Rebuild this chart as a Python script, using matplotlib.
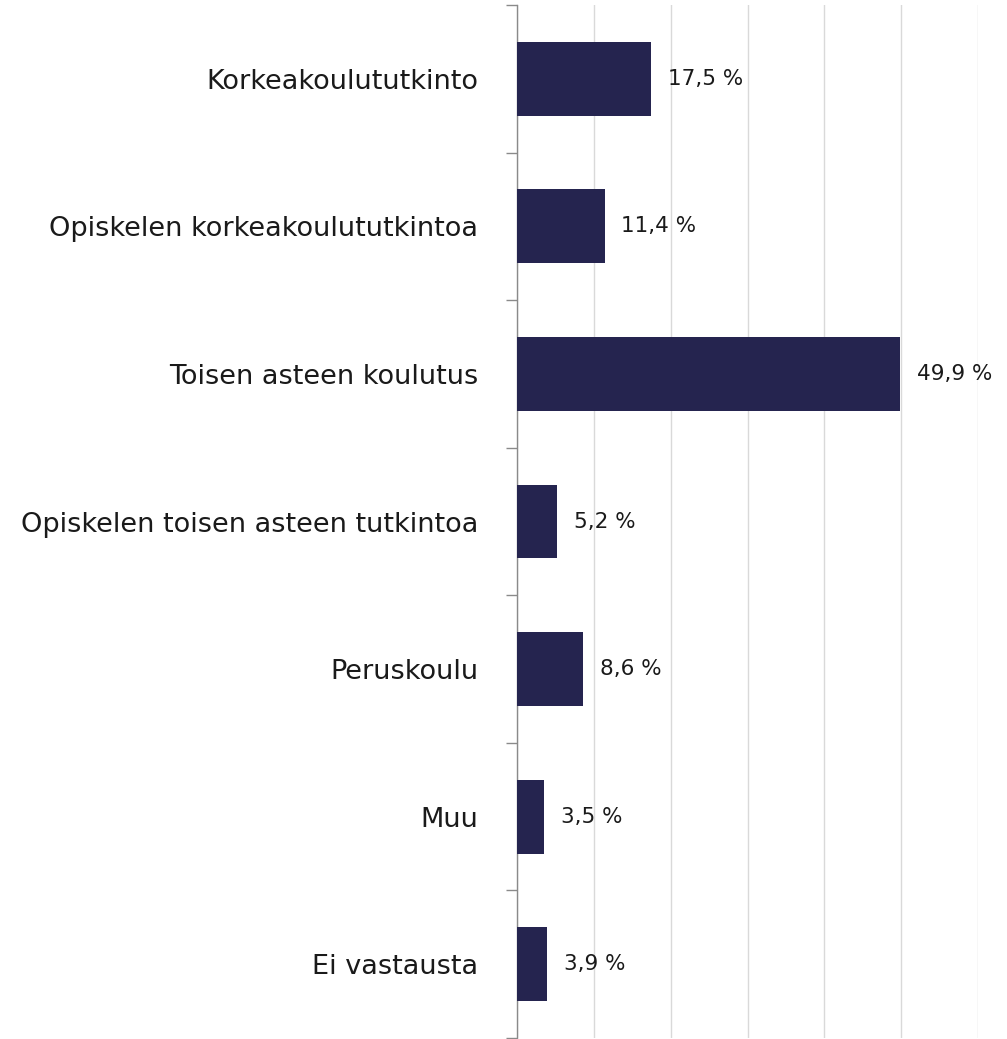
import matplotlib
matplotlib.use("Agg")
import matplotlib.pyplot as plt
from matplotlib.ticker import FixedLocator, MultipleLocator

categories = [
    "Korkeakoulututkinto",
    "Opiskelen korkeakoulututkintoa",
    "Toisen asteen koulutus",
    "Opiskelen toisen asteen tutkintoa",
    "Peruskoulu",
    "Muu",
    "Ei vastausta",
]
values = [17.5, 11.4, 49.9, 5.2, 8.6, 3.5, 3.9]

BAR_COLOR = "#25244f"
TEXT_COLOR = "#1a1a1a"

plt.rcParams["font.family"] = ["DejaVu Sans"]

fig = plt.figure(figsize=(10.07, 10.39), dpi=100)
fig.patch.set_facecolor("white")
ax = fig.add_axes([517 / 1007, 1 - 1038 / 1039, 461 / 1007, 1033 / 1039])

y = list(range(len(categories)))
ax.barh(y, values, height=0.5, color=BAR_COLOR, zorder=3)

for yi, v in zip(y, values):
    ax.annotate(f"{v:.1f} %".replace(".", ","), (v, yi), xytext=(12, 0),
                textcoords="offset points", va="center", ha="left",
                fontsize=15.5, color=TEXT_COLOR, clip_on=False)

ax.set_xlim(0, 60)
ax.set_ylim(len(categories) - 0.5, -0.5)

ax.xaxis.set_major_locator(MultipleLocator(10))
ax.tick_params(axis="x", length=0, labelbottom=False)
ax.grid(axis="x", color="#d9d9d9", linewidth=1, zorder=0)

# category labels without ticks, boundary ticks as minor
ax.set_yticks(y)
ax.set_yticklabels(categories, fontsize=19.5, color=TEXT_COLOR)
ax.tick_params(axis="y", which="major", length=0, pad=28)
ax.yaxis.set_minor_locator(FixedLocator([i - 0.5 for i in range(len(categories) + 1)]))
ax.tick_params(axis="y", which="minor", length=8, width=1, color="#8a8a8a")

for s in ("top", "right", "bottom"):
    ax.spines[s].set_visible(False)
ax.spines["left"].set_color("#8a8a8a")
ax.spines["left"].set_linewidth(1)

fig.savefig("out.png", dpi=100, facecolor="white")
